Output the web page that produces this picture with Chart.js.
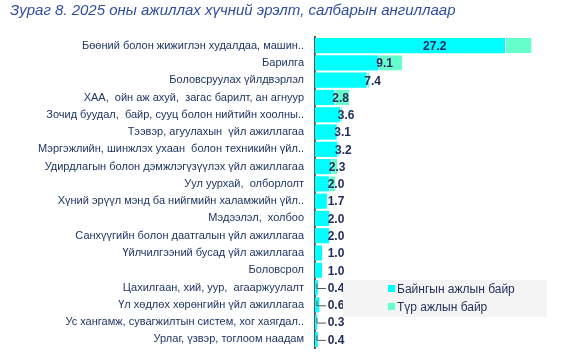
<!DOCTYPE html>
<html>
<head>
<meta charset="utf-8">
<script src="https://cdn.jsdelivr.net/npm/chart.js@4.4.1/dist/chart.umd.min.js"></script>
<style>
  html, body { margin: 0; padding: 0; background: #fff; }
  #wrap { width: 582px; height: 362px; position: relative; }
</style>
</head>
<body>
<div id="wrap"><canvas id="grafico" width="582" height="362"></canvas></div>
<script>
const titulo = 'Зураг 8. 2025 оны ажиллах хүчний эрэлт, салбарын ангиллаар';

const salbaruud = [
    'Бөөний болон жижиглэн худалдаа, машин..',
    'Барилга',
    'Боловсруулах үйлдвэрлэл',
    'ХАА,  ойн аж ахуй,  загас барилт, ан агнуур',
    'Зочид буудал,  байр, сууц болон нийтийн хоолны..',
    'Тээвэр, агуулахын  үйл ажиллагаа',
    'Мэргэжлийн, шинжлэх ухаан  болон техникийн үйл..',
    'Удирдлагын болон дэмжлэгүзүүлэх үйл ажиллагаа',
    'Уул уурхай,  олборлолт',
    'Хүний эрүүл мэнд ба нийгмийн халамжийн үйл..',
    'Мэдээлэл,  холбоо',
    'Санхүүгийн болон даатгалын үйл ажиллагаа',
    'Үйлчилгээний бусад үйл ажиллагаа',
    'Боловсрол',
    'Цахилгаан, хий, уур,  агааржуулалт',
    'Үл хөдлөх хөрөнгийн үйл ажиллагаа',
    'Ус хангамж, сувагжилтын систем, хог хаягдал..',
    'Урлаг, үзвэр, тоглоом наадам'
];

// байнгын ажлын байр (мянга)
const bainga = [27.2, 9.1, 7.4, 2.8, 3.6, 3.1, 3.2, 2.3, 2.0, 1.7, 2.0, 2.0, 1.0, 1.0, 0.4, 0.6, 0.3, 0.4];
// түр ажлын байр
const tur = [3.8, 3.4, 0.4, 2.1, 0.3, 0.1, 0.2, 0.9, 0.9, 0.1, 0.1, 0.1, 0.0, 0.0, 0.1, 0.1, 0.0, 0.0];

const tsenher = '#00FFFF';
const nogoon = '#66FFCC';

// утгын шошго
const shoshgoPlugin = {
    id: 'shoshgo',
    afterDatasetsDraw(chart) {
        const ctx = chart.ctx;
        const x = chart.scales.x;
        const meta0 = chart.getDatasetMeta(0);
        const x0 = x.getPixelForValue(0);
        ctx.save();
        ctx.font = 'bold 12px "Liberation Sans", Arial, sans-serif';
        ctx.fillStyle = '#1f2a5c';
        ctx.textAlign = 'center';
        ctx.textBaseline = 'middle';
        meta0.data.forEach((bar, i) => {
            const tugsgul = x.getPixelForValue(bainga[i]);
            let px = Math.max(tugsgul + 6, x0 + 21);
            if (tugsgul - x0 > 150) {
                px = x0 + (tugsgul - x0) * 0.63;
            }
            if (bainga[i] < 0.8) {
                ctx.strokeStyle = '#595959';
                ctx.lineWidth = 1;
                ctx.beginPath();
                ctx.moveTo(x0 + 2, bar.y - 4);
                ctx.lineTo(x0 + 2, bar.y + 1);
                ctx.lineTo(px - 10, bar.y + 1);
                ctx.stroke();
            }
            ctx.fillText(bainga[i].toFixed(1), px, bar.y + 1);
        });
        ctx.restore();
    }
};

// тайлбар
const tailbarPlugin = {
    id: 'tailbar',
    afterDraw(chart) {
        const ctx = chart.ctx;
        ctx.save();
        ctx.fillStyle = '#f4f4f4';
        ctx.fillRect(343, 280, 204, 37);
        ctx.font = '12px "Liberation Sans", Arial, sans-serif';
        ctx.textBaseline = 'middle';
        chart.data.datasets.forEach((ds, i) => {
            const y = 290 + i * 18;
            ctx.fillStyle = ds.backgroundColor;
            ctx.fillRect(388, y - 5, 7, 7);
            ctx.fillStyle = '#26325e';
            ctx.fillText(ds.label, 397, y);
        });
        ctx.restore();
    }
};

const ctx = document.getElementById('grafico').getContext('2d');
const grafico = new Chart(ctx, {
    type: 'bar',
    data: {
        labels: salbaruud,
        datasets: [{
            label: 'Байнгын ажлын байр',
            data: bainga,
            backgroundColor: tsenher,
            barPercentage: 0.88,
            categoryPercentage: 1
        }, {
            label: 'Түр ажлын байр',
            data: tur,
            backgroundColor: nogoon,
            borderColor: '#ffffff',
            borderWidth: { left: 1 },
            borderSkipped: false,
            barPercentage: 0.88,
            categoryPercentage: 1
        }]
    },
    options: {
        indexAxis: 'y',
        responsive: false,
        animation: false,
        layout: { padding: { left: 10, right: 12, top: 0, bottom: 14 } },
        plugins: {
            legend: { display: false },
            tooltip: { enabled: false },
            title: {
                display: true,
                text: titulo,
                align: 'start',
                color: '#2f4ea3',
                font: { family: '"Liberation Sans", Arial, sans-serif', size: 15, style: 'italic', weight: 'normal' },
                padding: { top: 2, bottom: 17 }
            }
        },
        scales: {
            x: {
                stacked: true,
                display: false,
                min: 0,
                max: 36.5
            },
            y: {
                stacked: true,
                grid: { display: false },
                border: { display: true, color: '#595959', width: 2 },
                ticks: {
                    color: '#1f3566',
                    padding: 3,
                    font: { family: '"Liberation Sans", Arial, sans-serif', size: 11 }
                },
                afterFit(scale) { scale.width = 305; }
            }
        }
    },
    plugins: [shoshgoPlugin, tailbarPlugin]
});
</script>
</body>
</html>
